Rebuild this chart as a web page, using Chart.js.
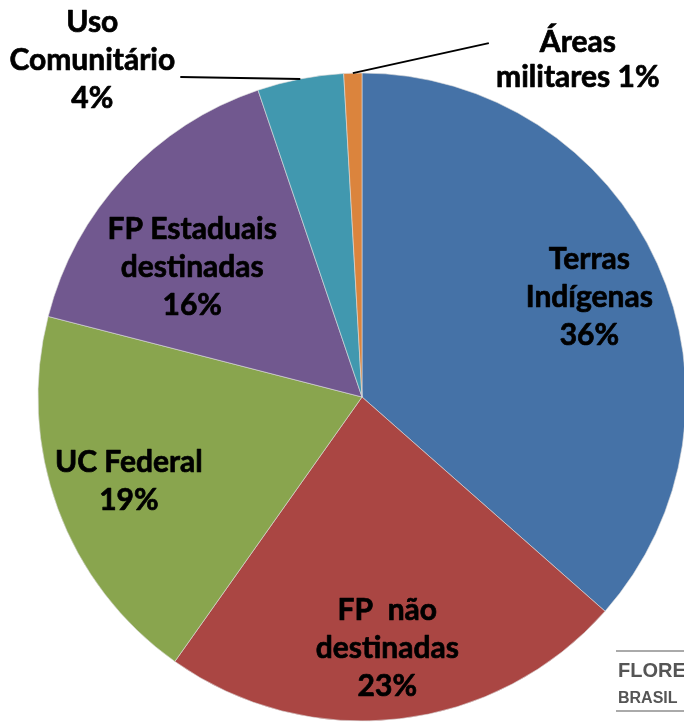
<!DOCTYPE html>
<html>
<head>
<meta charset="utf-8">
<script src="https://cdn.jsdelivr.net/npm/chart.js@4"></script>
<style>
  html, body { margin: 0; padding: 0; background: #fff; overflow: hidden; }
  #wrap { position: relative; width: 684px; height: 723px; overflow: hidden; }
  #areaChart { position: absolute; left: 0; top: 0; }
  .logo { position: absolute; left: 616px; width: 90px; color: #555; font-family: "Liberation Sans", Arial, sans-serif; font-weight: bold; line-height: 1; }
  .logo-line { position: absolute; left: 616px; width: 80px; height: 2px; background: #aaa; }
</style>
</head>
<body>
<div id="wrap">
  <canvas id="areaChart" width="700" height="723"></canvas>
  <div class="logo-line" style="top:650px"></div>
  <div class="logo" style="top:660px; left:618px; font-size:20px;">FLORE</div>
  <div class="logo" style="top:690px; left:618px; font-size:16px;">BRASIL</div>
  <div class="logo-line" style="top:710px"></div>
</div>
<script>
// **DATA**
const categories = ['Terras Indígenas', 'FP não destinadas', 'UC Federal', 'FP Estaduais destinadas', 'Uso Comunitário', 'Áreas militares'];
const shares = [36.5, 23.3, 19.2, 15.8, 4.3, 0.9];
const percentLabels = ['36%', '23%', '19%', '16%', '4%', '1%'];
const labelLines = [
    ['Terras', 'Indígenas', '36%'],
    ['FP  não', 'destinadas', '23%'],
    ['UC Federal', '19%'],
    ['FP Estaduais', 'destinadas', '16%'],
    ['Uso', 'Comunitário', '4%'],
    ['Áreas', 'militares 1%']
];
const sliceColors = ['#4572A7', '#AA4643', '#89A54E', '#71588F', '#4198AF', '#DB843D'];

// label placement: inside labels use a radial fraction + nudge,
// outside labels start a leader line at the slice edge
const labelPlacement = [
    { frac: 0.78, dx: -3, dy: 4 },
    { frac: 0.78, dx: -4, dy: 0 },
    { frac: 0.76, dx: -2, dy: -1 },
    { frac: 0.66, dx: -13, dy: 16 },
    { outside: true, lineTo: [-120, -2], text: [-208, -19] },
    { outside: true, lineTo: [136, -30], text: [225, -13], lineHeight: 35 }
];

const LABEL_FONT = 'bold 30px Lato, "Open Sans", sans-serif';

// **Slice labels + leader lines**
const sliceLabelPlugin = {
    id: 'sliceLabels',
    afterDatasetsDraw(chart) {
        const ctx = chart.ctx;
        const arcs = chart.getDatasetMeta(0).data;
        ctx.save();
        ctx.font = LABEL_FONT;
        ctx.fillStyle = '#000';
        ctx.textAlign = 'center';
        ctx.textBaseline = 'middle';
        arcs.forEach((arc, i) => {
            const p = labelPlacement[i];
            const mid = (arc.startAngle + arc.endAngle) / 2;
            const dirX = Math.cos(mid), dirY = Math.sin(mid);
            let cx, cy;
            if (p.outside) {
                const ex = arc.x + dirX * arc.outerRadius;
                const ey = arc.y + dirY * arc.outerRadius;
                ctx.beginPath();
                ctx.strokeStyle = '#000';
                ctx.lineWidth = 2;
                ctx.moveTo(ex, ey);
                ctx.lineTo(ex + p.lineTo[0], ey + p.lineTo[1]);
                ctx.stroke();
                cx = ex + p.text[0];
                cy = ey + p.text[1];
            } else {
                cx = arc.x + dirX * arc.outerRadius * p.frac + p.dx;
                cy = arc.y + dirY * arc.outerRadius * p.frac + p.dy;
            }
            const lines = labelLines[i];
            const lh = p.lineHeight || 38;
            // thin stroke to get closer to the heavier original bold face
            ctx.strokeStyle = '#000';
            ctx.lineWidth = 0.7;
            ctx.lineJoin = 'round';
            lines.forEach((txt, k) => {
                const y = cy + (k - (lines.length - 1) / 2) * lh;
                ctx.fillText(txt, cx, y);
                ctx.strokeText(txt, cx, y);
            });
        });
        ctx.restore();
    }
};

document.fonts.load(LABEL_FONT).finally(() => {
    const ctx = document.getElementById('areaChart').getContext('2d');
    new Chart(ctx, {
        type: 'pie',
        data: {
            labels: categories,
            datasets: [{
                data: shares,
                backgroundColor: sliceColors,
                borderColor: 'rgba(220, 220, 220, 0.6)',
                borderWidth: 1,
                hoverOffset: 0
            }]
        },
        options: {
            responsive: false,
            animation: false,
            radius: 324,
            layout: { padding: { left: 38, top: 73, right: 14, bottom: 2 } },
            plugins: {
                legend: { display: false },
                tooltip: { enabled: false },
                title: { display: false }
            }
        },
        plugins: [sliceLabelPlugin]
    });
});
</script>
</body>
</html>
